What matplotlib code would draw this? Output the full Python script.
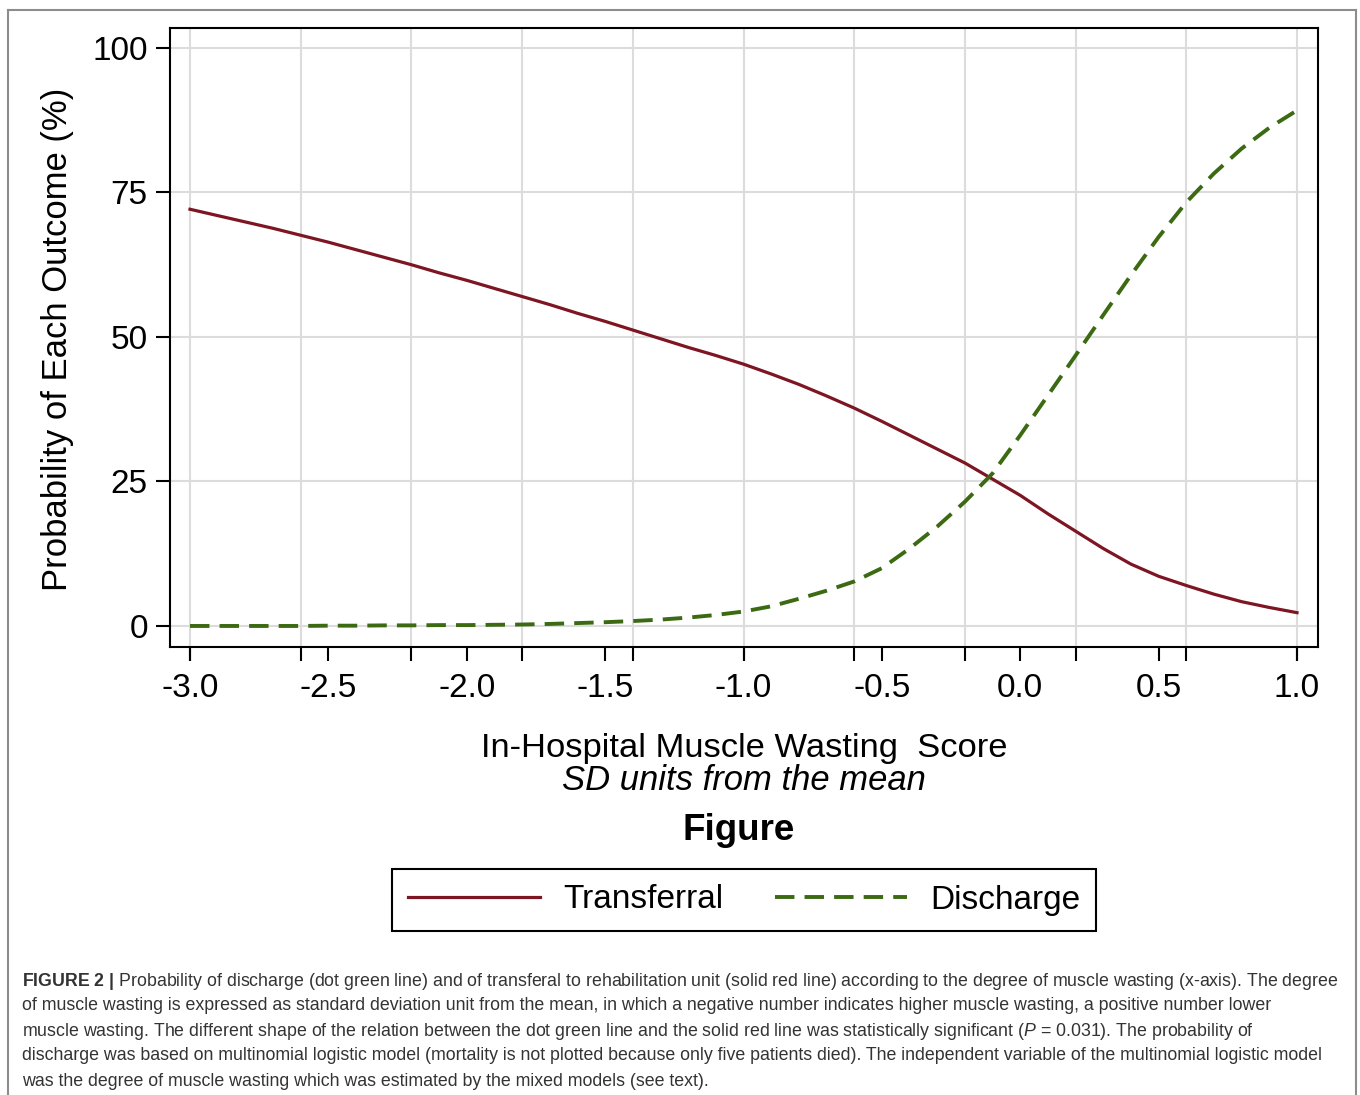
import matplotlib
matplotlib.use("Agg")
import matplotlib.pyplot as plt
from matplotlib.ticker import FixedLocator
from matplotlib.lines import Line2D

plt.rcParams["font.family"] = ["Liberation Sans", "DejaVu Sans"]
plt.rcParams["mathtext.fontset"] = "custom"
plt.rcParams["mathtext.rm"] = "Liberation Sans"
plt.rcParams["mathtext.it"] = "Liberation Sans:italic"
plt.rcParams["mathtext.bf"] = "Liberation Sans:bold"

W, H = 1360, 1095
RED, GREEN, GRID = "#7d1523", "#3b6a12", "#dcdcdc"

# muscle wasting score (SD units) and predicted probabilities (%)
score = [-3.0, -2.9, -2.8, -2.7, -2.6, -2.5, -2.4, -2.3, -2.2, -2.1, -2.0,
         -1.9, -1.8, -1.7, -1.6, -1.5, -1.4, -1.3, -1.2, -1.1, -1.0,
         -0.9, -0.8, -0.7, -0.6, -0.5, -0.4, -0.3, -0.2, -0.1, 0.0,
         0.1, 0.2, 0.3, 0.4, 0.5, 0.6, 0.7, 0.8, 0.9, 1.0]
transferral = [72.1, 71.0, 69.9, 68.8, 67.6, 66.4, 65.1, 63.8, 62.5, 61.1, 59.8,
               58.4, 57.0, 55.6, 54.1, 52.7, 51.2, 49.7, 48.2, 46.8, 45.3,
               43.6, 41.8, 39.8, 37.7, 35.4, 33.0, 30.6, 28.2, 25.4, 22.6,
               19.4, 16.4, 13.4, 10.7, 8.6, 7.0, 5.5, 4.2, 3.2, 2.3]
discharge = [0.0, 0.0, 0.0, 0.0, 0.0, 0.05, 0.05, 0.1, 0.1, 0.15, 0.15,
             0.2, 0.25, 0.35, 0.5, 0.65, 0.85, 1.1, 1.45, 1.9, 2.5,
             3.4, 4.7, 6.1, 7.7, 10.0, 13.4, 17.2, 21.5, 26.4, 33.0,
             39.9, 46.8, 53.8, 60.7, 67.3, 73.3, 78.3, 82.6, 86.2, 89.2]

x_labels = [-3.0, -2.5, -2.0, -1.5, -1.0, -0.5, 0.0, 0.5, 1.0]
x_grid = [-3.0, -2.6, -2.2, -1.8, -1.4, -1.0, -0.6, -0.2, 0.2, 0.6, 1.0]
y_ticks = [0, 25, 50, 75, 100]

caption = [
    r"$\mathbf{FIGURE\ 2\ |}$ Probability of discharge (dot green line) and of transferal to rehabilitation unit (solid red line) according to the degree of muscle wasting (x-axis). The degree",
    "of muscle wasting is expressed as standard deviation unit from the mean, in which a negative number indicates higher muscle wasting, a positive number lower",
    r"muscle wasting. The different shape of the relation between the dot green line and the solid red line was statistically significant ($\mathit{P}$ = 0.031). The probability of",
    "discharge was based on multinomial logistic model (mortality is not plotted because only five patients died). The independent variable of the multinomial logistic model",
    "was the degree of muscle wasting which was estimated by the mixed models (see text).",
]


def px(x, y):
    return x / W, 1 - y / H


fig = plt.figure(figsize=(W / 100, H / 100), dpi=100)
ax = fig.add_axes([170 / W, 1 - 647 / H, (1318 - 170) / W, (647 - 28) / H])

ax.plot(score, transferral, color=RED, lw=2.3, label="Transferral")
ax.plot(score, discharge, color=GREEN, lw=2.8, dashes=(5, 2.6), label="Discharge")

ax.set_xlim(-3.0723, 1.0759)
ax.set_ylim(-3.64, 103.46)
ax.xaxis.remove_overlapping_locs = False
ax.xaxis.set_major_locator(FixedLocator(x_labels))
ax.set_xticklabels([f"{v:.1f}" for v in x_labels])
ax.xaxis.set_minor_locator(FixedLocator(x_grid))
ax.set_yticks(y_ticks)
ax.tick_params(which="both", length=10, width=1.5, labelsize=24, direction="out")
ax.tick_params(axis="x", pad=9)
ax.tick_params(axis="y", pad=6)
ax.grid(which="minor", axis="x", color=GRID, lw=1.5)
ax.grid(which="major", axis="y", color=GRID, lw=1.5)
ax.set_axisbelow(True)
for s in ax.spines.values():
    s.set_linewidth(1.5)

fig.text(*px(58, 339), "Probability of Each Outcome (%)", rotation=90,
         fontsize=24.9, ha="center", va="center")
fig.text(*px(744, 749), "In-Hospital Muscle Wasting  Score", fontsize=24.8,
         ha="center", va="center")
fig.text(*px(744, 781), "SD units from the mean", fontsize=24.9, style="italic",
         ha="center", va="center")
fig.text(*px(739, 831), "Figure", fontsize=26.5, fontweight="bold",
         ha="center", va="center")

leg = fig.legend(loc="center", bbox_to_anchor=px(744, 900), ncol=2, fontsize=24,
                 frameon=True, fancybox=False, edgecolor="black", framealpha=1,
                 handlelength=3.95, handletextpad=0.7, columnspacing=1.55,
                 borderpad=0.47, borderaxespad=0)
leg.get_frame().set_linewidth(1.5)

# caption: fit first line to the printed width
r = fig.canvas.get_renderer()
probe = fig.text(0, 0, caption[0], fontsize=12)
size = 12 * (1340 - 22) / probe.get_window_extent(r).width
probe.remove()
for i, line in enumerate(caption):
    fig.text(*px(22, 981 + 25 * i), line, fontsize=size, color="#333333",
             ha="left", va="center")

# outer frame
for xs, ys in [((8, 8), (10, 1095)), ((8, 1356), (10, 10)), ((1356, 1356), (10, 1095))]:
    fig.add_artist(Line2D([x / W for x in xs], [1 - y / H for y in ys],
                          color="#8c8c8c", lw=1.5))

fig.savefig("out.png", dpi=100)
